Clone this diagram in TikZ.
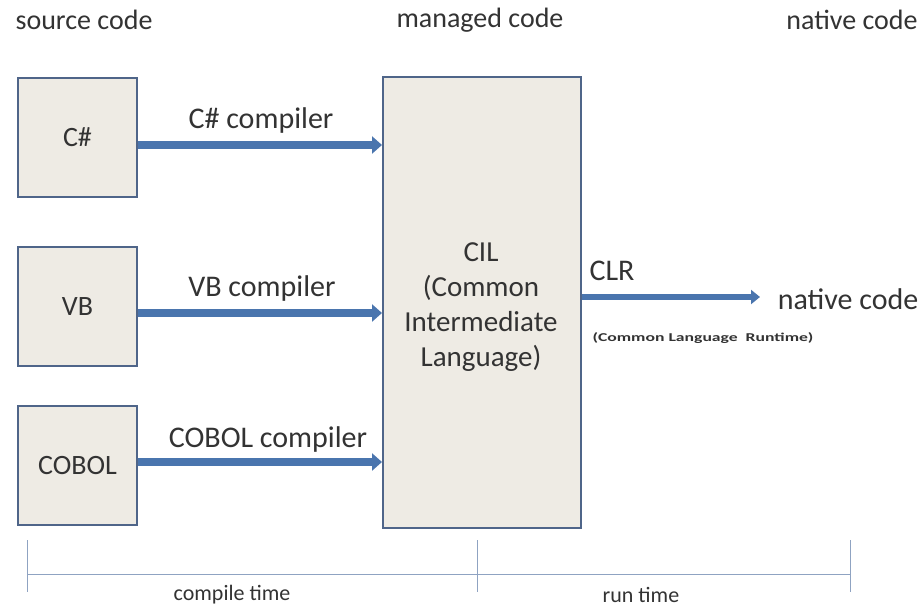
\documentclass[tikz,border=0pt]{standalone}
\usepackage{fontspec}
\setmainfont{Carlito}
\usetikzlibrary{arrows.meta}
\definecolor{boxfill}{HTML}{EEEBE4}
\definecolor{boxdraw}{HTML}{4F6589}
\definecolor{arrowc}{HTML}{4A75AE}
\definecolor{linec}{HTML}{8FA3C2}
\definecolor{txt}{HTML}{333333}
\begin{document}
\begin{tikzpicture}[x=1pt,y=-1pt,
  srcbox/.style={draw=boxdraw,line width=2pt,fill=boxfill,minimum width=119pt,minimum height=119pt,inner sep=0pt,font=\fontsize{28}{32}\selectfont,text=txt},
  cilbox/.style={draw=boxdraw,line width=2pt,fill=boxfill,minimum width=198pt,minimum height=451pt,inner sep=0pt,align=center,font=\fontsize{29}{35}\selectfont,text=txt},
  flow/.style={draw=arrowc,line width=8pt,-{Triangle[width=17pt,length=10pt]}},
  clrflow/.style={draw=arrowc,line width=6pt,-{Triangle[width=14pt,length=9pt]}},
  lbl/.style={font=\fontsize{30}{34}\selectfont,text=txt,inner sep=0pt},
  hdr/.style={font=\fontsize{28}{32}\selectfont,text=txt,inner sep=0pt},
  small/.style={font=\fontsize{22}{26}\selectfont,text=txt,inner sep=0pt},
  tl/.style={draw=linec,line width=1pt}
]
\useasboundingbox[fill=white] (0,0) rectangle (921,607);
% headers
\node[hdr] (h1) at (84,20) {source code};
\node[hdr] (h2) at (480,20) {managed code};
\node[hdr] (h3) at (852,20) {native code};
% boxes
\node[srcbox] (cs) at (77.5,137.5) {C\#};
\node[srcbox] (vb) at (77.5,306.5) {VB};
\node[srcbox] (cob) at (77.5,465.5) {COBOL};
\node[cilbox] (cil) at (482,302.5) {};
\node[inner sep=0pt,align=center,font=\fontsize{29}{35}\selectfont,text=txt] (ciltext) at (481,307) {CIL\\(Common\\Intermediate\\Language)};
% arrows
\draw[flow] (cs.east |- 0,145) -- (cil.west |- 0,145);
\draw[flow] (vb.east |- 0,313) -- (cil.west |- 0,313);
\draw[flow] (cob.east |- 0,462) -- (cil.west |- 0,462);
\node[lbl] (l1) at (261,121) {C\# compiler};
\node[lbl] (l2) at (262,289) {VB compiler};
\node[lbl] (l3) at (268,439) {COBOL compiler};
% CLR
\node[lbl] (nat) at (848,299) {native code};
\coordinate (clrend) at (760,297);
\draw[clrflow] (cil.east |- clrend) -- (clrend);
\node[lbl] (clr) at (612,271) {CLR};
\node[inner sep=0pt,text=txt] (clrfull) at (703,338) {\scalebox{1.47}[1]{\fontsize{12}{14}\selectfont\bfseries (Common Language\ \ Runtime)}};
% timeline
\coordinate (t0) at (27,574);
\coordinate (t1) at (477,574);
\coordinate (t2) at (850,574);
\draw[tl] (t0) -- (t2);
\draw[tl] (27,540) -- (27,592);
\draw[tl] (477,540) -- (477,592);
\draw[tl] (850,540) -- (850,592);
\node[small] (ct) at (232,595) {compile time};
\node[small] (rt) at (641,595) {run time};
\end{tikzpicture}
\end{document}
